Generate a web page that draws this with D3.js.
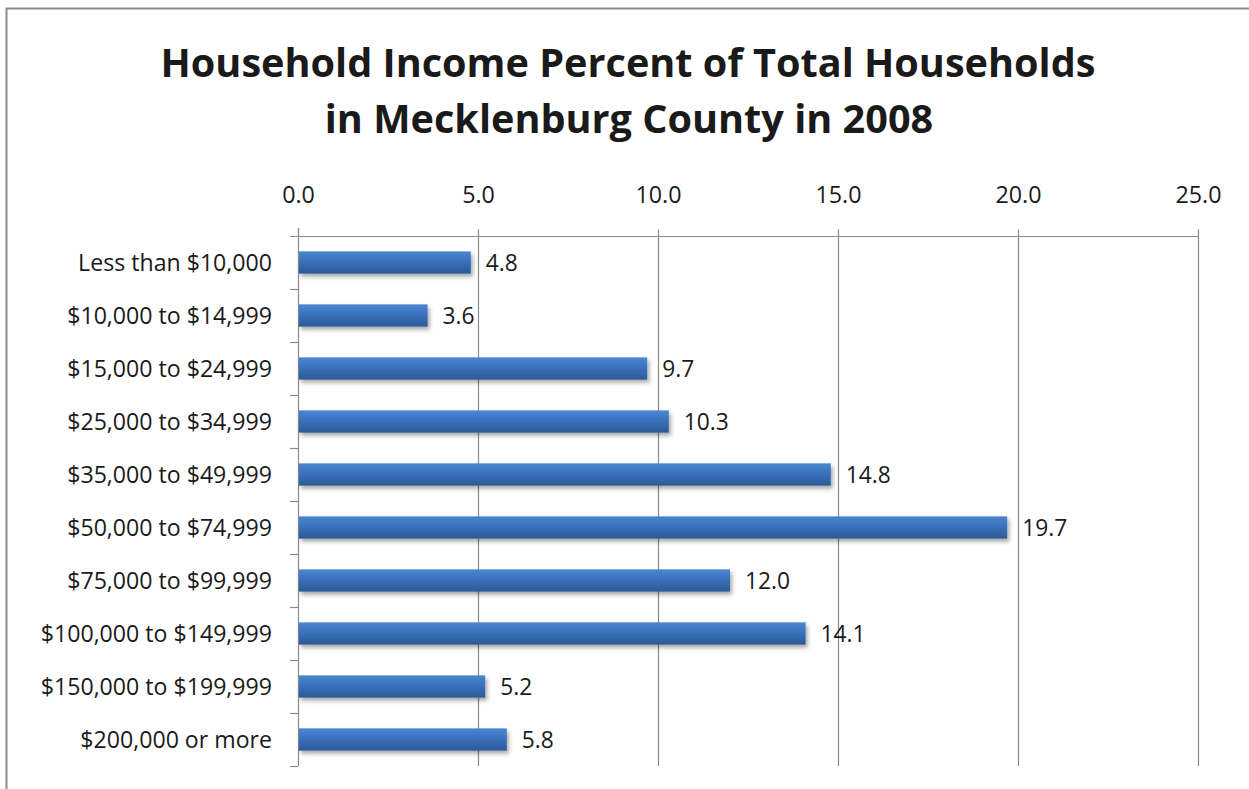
<!DOCTYPE html>
<html>
<head>
<meta charset="utf-8">
<script src="https://cdn.jsdelivr.net/npm/d3@7"></script>
<style>
  html, body { margin: 0; padding: 0; background: #ffffff; }
  svg { display: block; }
  text { font-family: "Open Sans", "Noto Sans", sans-serif; fill: #1a1a1a; }
</style>
</head>
<body>
<svg id="chart" width="1249" height="789"></svg>
<script>
// Income brackets, top to bottom
const categories = [
  "Less than $10,000",
  "$10,000 to $14,999",
  "$15,000 to $24,999",
  "$25,000 to $34,999",
  "$35,000 to $49,999",
  "$50,000 to $74,999",
  "$75,000 to $99,999",
  "$100,000 to $149,999",
  "$150,000 to $199,999",
  "$200,000 or more"
];
// Percent of total households
const percents = [4.8, 3.6, 9.7, 10.3, 14.8, 19.7, 12.0, 14.1, 5.2, 5.8];
const xTicks = [0, 5, 10, 15, 20, 25];
const titleLines = [
  "Household Income Percent of Total Households",
  "in Mecklenburg County in 2008"
];

const svg = d3.select("#chart");
const W = 1249, H = 789;
const plot = { left: 298, right: 1198, top: 236, bottom: 766 };

// Frame of the chart area
svg.append("rect")
  .attr("x", 6.5).attr("y", 8.5)
  .attr("width", W + 20).attr("height", H + 20)
  .attr("fill", "#ffffff")
  .attr("stroke", "#8c8c8c").attr("stroke-width", 2);

const defs = svg.append("defs");
const grad = defs.append("linearGradient")
  .attr("id", "barFill").attr("x1", 0).attr("y1", 0).attr("x2", 0).attr("y2", 1);
grad.append("stop").attr("offset", "0%").attr("stop-color", "#4a86d3");
grad.append("stop").attr("offset", "45%").attr("stop-color", "#3a71bd");
grad.append("stop").attr("offset", "100%").attr("stop-color", "#2c5995");
const shadow = defs.append("filter").attr("id", "barShadow")
  .attr("x", "-5%").attr("y", "-30%").attr("width", "115%").attr("height", "190%");
shadow.append("feDropShadow")
  .attr("dx", 2).attr("dy", 3).attr("stdDeviation", 2)
  .attr("flood-color", "#000").attr("flood-opacity", 0.35);

const x = d3.scaleLinear().domain([0, 25]).range([plot.left, plot.right]);
const y = d3.scaleBand().domain(categories).range([plot.top, plot.bottom])
  .paddingInner(0.58).paddingOuter(0.29);
const yEdges = d3.scaleLinear().domain([0, categories.length]).range([plot.top, plot.bottom]);

// Font size that makes a text span a target width
function fittedSize(node, target) {
  const w = node.getComputedTextLength();
  const fs = parseFloat(d3.select(node).attr("font-size"));
  return (fs * target / w).toFixed(2);
}

// Title
const title = svg.append("g");
const t1 = title.append("text").attr("x", 628).attr("y", 77)
  .attr("text-anchor", "middle").attr("font-weight", "bold")
  .attr("font-size", 40).text(titleLines[0]);
t1.attr("font-size", fittedSize(t1.node(), 935));
title.append("text").attr("x", 629).attr("y", 133)
  .attr("text-anchor", "middle").attr("font-weight", "bold")
  .attr("font-size", t1.attr("font-size")).text(titleLines[1]);

// Vertical gridlines
svg.append("g").selectAll("line")
  .data(xTicks.filter(d => d > 0))
  .join("line")
  .attr("x1", d => Math.round(x(d)) + 0.5).attr("x2", d => Math.round(x(d)) + 0.5)
  .attr("y1", plot.top).attr("y2", plot.bottom)
  .attr("stroke", "#8a8a8a").attr("stroke-width", 1.2);

// Top value axis
const xAxis = d3.axisTop(x).tickValues(xTicks).tickFormat(d3.format(".1f"))
  .tickSize(7).tickPadding(27);
const gx = svg.append("g").attr("transform", `translate(0,${plot.top + 0.5})`).call(xAxis);
gx.attr("font-family", null).attr("font-size", null);
gx.select(".domain").attr("stroke", "#8a8a8a").attr("stroke-width", 1.2)
  .attr("d", `M${plot.left - 8},0H${plot.right}`);
gx.selectAll(".tick line").attr("stroke", "#8a8a8a").attr("stroke-width", 1.2);
const tickText = gx.selectAll(".tick text").attr("font-size", 20).style("fill", "#1a1a1a");
const tickSize = fittedSize(tickText.nodes()[xTicks.length - 1], 46);
tickText.attr("font-size", tickSize);

// Left category axis: line with tick marks at band boundaries
const gy = svg.append("g");
gy.append("line")
  .attr("x1", plot.left + 0.5).attr("x2", plot.left + 0.5)
  .attr("y1", plot.top - 8).attr("y2", plot.bottom)
  .attr("stroke", "#8a8a8a").attr("stroke-width", 1.2);
gy.selectAll("line.tick")
  .data(d3.range(1, categories.length + 1))
  .join("line").attr("class", "tick")
  .attr("x1", plot.left - 8).attr("x2", plot.left)
  .attr("y1", d => Math.round(yEdges(d)) + 0.5).attr("y2", d => Math.round(yEdges(d)) + 0.5)
  .attr("stroke", "#8a8a8a").attr("stroke-width", 1.2);

const catLabels = gy.selectAll("text")
  .data(categories)
  .join("text")
  .attr("x", plot.left - 26)
  .attr("y", d => y(d) + y.bandwidth() / 2)
  .attr("dy", "0.35em")
  .attr("text-anchor", "end")
  .attr("font-size", 20)
  .text(d => d);
catLabels.attr("font-size", fittedSize(catLabels.nodes()[0], 194));

// Bars
const rows = categories.map((c, i) => ({ c, v: percents[i] }));
svg.append("g").selectAll("rect")
  .data(rows)
  .join("rect")
  .attr("x", x(0) + 1)
  .attr("y", d => y(d.c))
  .attr("width", d => x(d.v) - x(0) - 1)
  .attr("height", y.bandwidth())
  .attr("fill", "url(#barFill)")
  .attr("filter", "url(#barShadow)");

// Value labels
const valLabels = svg.append("g").selectAll("text")
  .data(rows)
  .join("text")
  .attr("x", d => x(d.v) + 15)
  .attr("y", d => y(d.c) + y.bandwidth() / 2)
  .attr("dy", "0.36em")
  .attr("font-size", 20)
  .text(d => d3.format(".1f")(d.v));
valLabels.attr("font-size", fittedSize(valLabels.nodes()[3], 45));
</script>
</body>
</html>
